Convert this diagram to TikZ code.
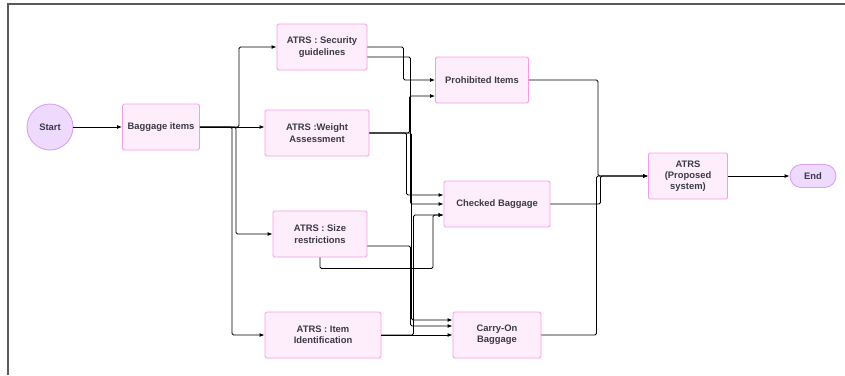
\documentclass[tikz,border=0pt]{standalone}
\usepackage{fontspec}
\setmainfont{Liberation Sans}
\usetikzlibrary{arrows.meta}
\definecolor{boxfill}{HTML}{FEEDFA}
\definecolor{boxline}{HTML}{F79BE6}
\definecolor{termfill}{HTML}{EDDAFD}
\definecolor{termline}{HTML}{D9A0F5}
\definecolor{txt}{HTML}{3A3A48}

\begin{document}
\begin{tikzpicture}[x=1pt,y=-1pt,
	box/.style={draw=boxline,fill=boxfill,line width=0.9pt,rounded corners=1.5pt,minimum height=46pt,align=center,inner sep=2pt,text=txt,font=\fontsize{9.4}{11.3}\selectfont\bfseries},
	term/.style={draw=termline,fill=termfill,line width=0.9pt,text=txt,inner sep=0pt,font=\fontsize{9.4}{11}\selectfont\bfseries},
	link/.style={line width=0.9pt,rounded corners=1.5pt,-{Latex[length=5pt,width=4pt]}}]
		\useasboundingbox (0,0) rectangle (845,375);
		\draw[gray!70!black,line width=1.2pt] (8,375)--(8,4)--(845,4);
		
		\node (start) [term,circle,minimum size=46pt] at (50,127) {Start};
		\node (bag) [box,minimum width=77pt] at (161,127) {Baggage items};
		\node (sec) [box,minimum width=90pt] at (322,47) {ATRS : Security\\guidelines};
		\node (weight) [box,minimum width=104pt] at (317,133) {ATRS :Weight\\Assessment};
		\node (size) [box,minimum width=94pt] at (320,234) {ATRS : Size\\restrictions};
		\node (ident) [box,minimum width=116pt] at (323,335) {ATRS : Item\\Identification};
		\node (prohib) [box,minimum width=93pt] at (482,80) {Prohibited Items};
		\node (checked) [box,minimum width=106pt] at (497,204) {Checked Baggage};
		\node (carry) [box,minimum width=88pt] at (497,335) {Carry-On\\Baggage};
		\node (atrs) [box,minimum width=79pt] at (688,176) {ATRS\\(Proposed\\system)};
		\node (stop) [term,rounded corners=11.5pt,minimum width=46pt,minimum height=23pt] at (813,176) {End};
		
		\draw[link] (start) -- (bag);
		\draw[link] (bag.east) -- ++(39,0) |- (sec.west);
		\draw[link] (bag.east) -- (weight.west |- bag.east);
		\draw[link] (bag.east) -- ++(36,0) |- (size.west);
		\draw[link] (bag.east) -- ++(32,0) |- (ident.west);
		
		\draw[link] (sec.east) -- ++(36,0) |- (prohib.west);
		\draw[link] ([yshift=-10pt]sec.east) -- ++(43,0) |- (checked.west);
		\draw[link] (weight.east) -- ++(40,0) |- ([yshift=-16pt]prohib.west);
		\draw[link] (weight.east) -- ++(37,0) |- ([yshift=9pt]checked.west);
		\draw[link] (weight.east) -- ++(42,0) |- ([yshift=15pt]carry.west);
		\draw[link] ([yshift=-12pt]size.east) -- ++(43,0) |- ([yshift=9pt]carry.west);
		\draw[link] (size.south) -- ++(0,11) -- ++(113,0) |- ([yshift=-11pt]checked.west);
		\draw[link] (ident.east) -- (carry.west);
		\draw[link] (ident.east) -- ++(32,0) |- ([yshift=-11pt]checked.west);
		
		\draw[link] (prohib.east) -- ++(69,0) |- (atrs.west);
		\draw[link] (checked.east) -- ++(50,0) |- (atrs.west);
		\draw[link] (carry.east) -- ++(55,0) |- (atrs.west);
		\draw[link] (atrs) -- (stop);
	\end{tikzpicture}
\end{document}
